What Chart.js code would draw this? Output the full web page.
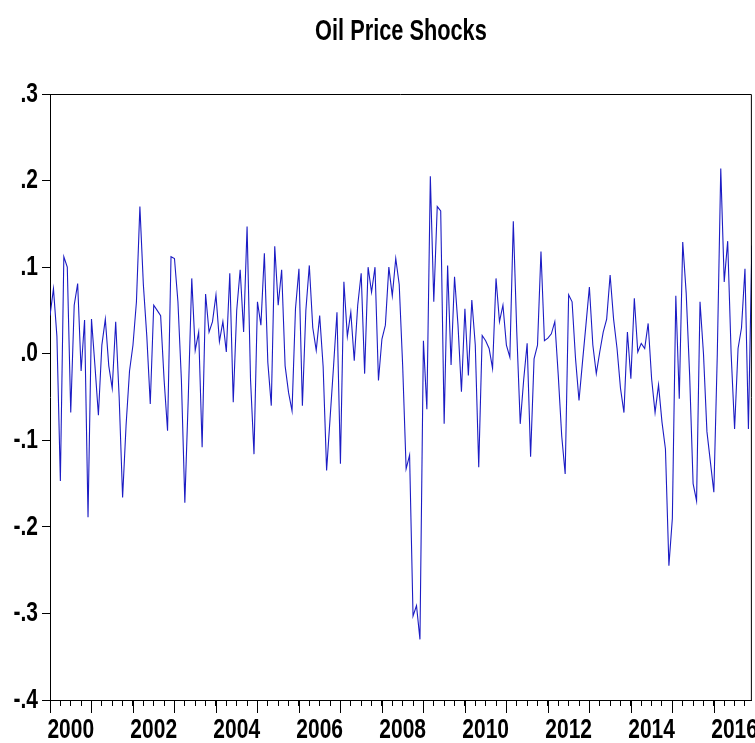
<!DOCTYPE html>
<html lang="en">
<head>
    <meta charset="UTF-8">
    <title>Oil Price Shocks</title>
    <script src="https://cdn.jsdelivr.net/npm/chart.js@4.4.3/dist/chart.umd.min.js"></script>
    <style>
        html, body { margin: 0; padding: 0; background: #fff; }
        .chart-box { width: 755px; height: 743px; position: relative; }
    </style>
</head>
<body>
    <div class="chart-box">
        <canvas id="shockChart"></canvas>
    </div>

    <script>
        // monthly series, 2000M01 .. 2016M12
        const startYear = 2000;
        const shocks2000_2004 = [
            0.044, 0.075, 0.02, -0.147, 0.112, 0.10, -0.068, 0.056, 0.081, -0.02, 0.039, -0.189,
            0.04, -0.014, -0.071, 0.01, 0.04, -0.014, -0.04, 0.037, -0.05, -0.166, -0.083, -0.02,
            0.01, 0.06, 0.17, 0.08, 0.02, -0.058, 0.056, 0.05, 0.044, -0.03, -0.089, 0.112,
            0.11, 0.06, -0.03, -0.172, -0.05, 0.087, 0.004, 0.025, -0.108, 0.069, 0.025, 0.037,
            0.068, 0.014, 0.037, 0.002, 0.093, -0.056, 0.05, 0.097, 0.025, 0.147, -0.03, -0.116
        ];
        const shocks2005_2009 = [
            0.06, 0.033, 0.116, -0.01, -0.06, 0.124, 0.056, 0.097, -0.014, -0.045, -0.066, 0.052,
            0.098, -0.06, 0.05, 0.102, 0.03, 0.004, 0.044, -0.015, -0.135, -0.075, -0.015, 0.048,
            -0.127, 0.083, 0.02, 0.048, -0.008, 0.056, 0.093, -0.023, 0.1, 0.071, 0.1, -0.031,
            0.017, 0.033, 0.1, 0.067, 0.11, 0.08, -0.014, -0.133, -0.117, -0.303, -0.291, -0.33,
            0.015, -0.064, 0.205, 0.06, 0.17, 0.165, -0.081, 0.102, -0.013, 0.089, 0.033, -0.044
        ];
        const shocks2010_2014 = [
            0.052, -0.025, 0.062, 0.01, -0.131, 0.021, 0.015, 0.006, -0.017, 0.087, 0.037, 0.056,
            0.01, -0.004, 0.153, 0.025, -0.081, -0.03, 0.012, -0.119, -0.006, 0.01, 0.118, 0.015,
            0.018, 0.023, 0.037, -0.025, -0.095, -0.139, 0.068, 0.06, -0.006, -0.054, -0.01, 0.033,
            0.077, 0.01, -0.023, 0.002, 0.025, 0.04, 0.091, 0.04, 0.006, -0.04, -0.068, 0.025,
            -0.029, 0.064, 0.002, 0.012, 0.006, 0.035, -0.029, -0.068, -0.036, -0.079, -0.11, -0.245
        ];
        const shocks2015_2016 = [
            -0.19, 0.067, -0.052, 0.129, 0.07, -0.025, -0.15, -0.17, 0.06, 0.0, -0.09, -0.125,
            -0.16, 0.0, 0.214, 0.083, 0.13, 0.0, -0.087, 0.006, 0.03, 0.098, -0.087, 0.125
        ];
        const shockValues = [...shocks2000_2004, ...shocks2005_2009, ...shocks2010_2014, ...shocks2015_2016];

        const yearLabels = ['2000', '2002', '2004', '2006', '2008', '2010', '2012', '2014', '2016'];
        const yMin = -0.4, yMax = 0.3;

        const lastMonth = shockValues.length - 1;
        const points = shockValues.map((v, i) => ({ x: i, y: v }));

        const fontFamily = "'Liberation Sans', Arial, sans-serif";
        const labelFont = { family: fontFamily, size: 28, weight: 'bold', lineHeight: 1 };

        // the original uses a tall narrow face: squeeze every label horizontally
        const squeezeText = {
            id: 'squeeze',
            beforeInit(chart) {
                const ctx = chart.ctx;
                const fill = ctx.fillText.bind(ctx);
                ctx.fillText = (text, x, y) => {
                    ctx.save();
                    ctx.translate(x, y);
                    ctx.scale(0.75, 1);
                    fill(text, 0, 0);
                    ctx.restore();
                };
            }
        };

        // box round the plot + longer ticks at each year start
        const framePlugin = {
            id: 'frame',
            afterDraw(chart) {
                const { ctx, chartArea: a, scales } = chart;
                ctx.save();
                ctx.strokeStyle = '#000';
                ctx.lineWidth = 1;
                ctx.beginPath();
                ctx.moveTo(a.left, a.top + 0.5);
                ctx.lineTo(a.right - 0.5, a.top + 0.5);
                ctx.lineTo(a.right - 0.5, a.bottom);
                ctx.stroke();
                const xs = scales.x;
                ctx.beginPath();
                for (let m = 0; m <= lastMonth; m += 12) {
                    const px = Math.round(xs.getPixelForValue(m)) + 0.5;
                    ctx.moveTo(px, a.bottom);
                    ctx.lineTo(px, a.bottom + 13);
                }
                ctx.stroke();
                ctx.restore();
            }
        };

        new Chart(document.getElementById('shockChart'), {
            type: 'line',
            data: {
                datasets: [{
                    label: 'Oil Price Shocks',
                    data: points,
                    borderColor: '#1c1cc4',
                    borderWidth: 1.1,
                    pointRadius: 0,
                    tension: 0
                }]
            },
            options: {
                responsive: true,
                maintainAspectRatio: false,
                animation: false,
                devicePixelRatio: 1,
                layout: { padding: { left: 0, right: 3, top: 0, bottom: 0 } },
                plugins: {
                    legend: { display: false },
                    tooltip: { enabled: false },
                    title: {
                        display: true,
                        text: 'Oil Price Shocks',
                        color: '#000',
                        fullSize: false,
                        font: { family: fontFamily, size: 29, weight: 'bold', lineHeight: 1 },
                        padding: { top: 17, bottom: 48 }
                    }
                },
                scales: {
                    x: {
                        type: 'linear',
                        min: 0,
                        max: lastMonth,
                        afterBuildTicks: (scale) => {
                            const t = [];
                            for (let m = 0; m <= lastMonth; m += 3) t.push({ value: m });
                            scale.ticks = t;
                        },
                        afterFit: (scale) => { scale.height = 43; },
                        ticks: {
                            autoSkip: false,
                            maxRotation: 0,
                            padding: 10,
                            color: '#000',
                            font: labelFont,
                            callback: (value) => (value - 6) % 24 === 0 ? yearLabels[(value - 6) / 24] : ''
                        },
                        grid: { drawOnChartArea: false, drawTicks: true, tickLength: 6, color: '#000' },
                        border: { display: true, color: '#000', width: 1 }
                    },
                    y: {
                        min: yMin,
                        max: yMax,
                        afterFit: (scale) => { scale.width = 50; },
                        ticks: {
                            stepSize: 0.1,
                            padding: 4,
                            color: '#000',
                            font: labelFont,
                            callback: (value) => {
                                const n = Math.round(value * 10);
                                return (n < 0 ? '-' : '') + '.' + Math.abs(n);
                            }
                        },
                        grid: { drawOnChartArea: false, drawTicks: true, tickLength: 8, color: '#000' },
                        border: { display: true, color: '#000', width: 1 }
                    }
                }
            },
            plugins: [squeezeText, framePlugin]
        });
    </script>
</body>
</html>
